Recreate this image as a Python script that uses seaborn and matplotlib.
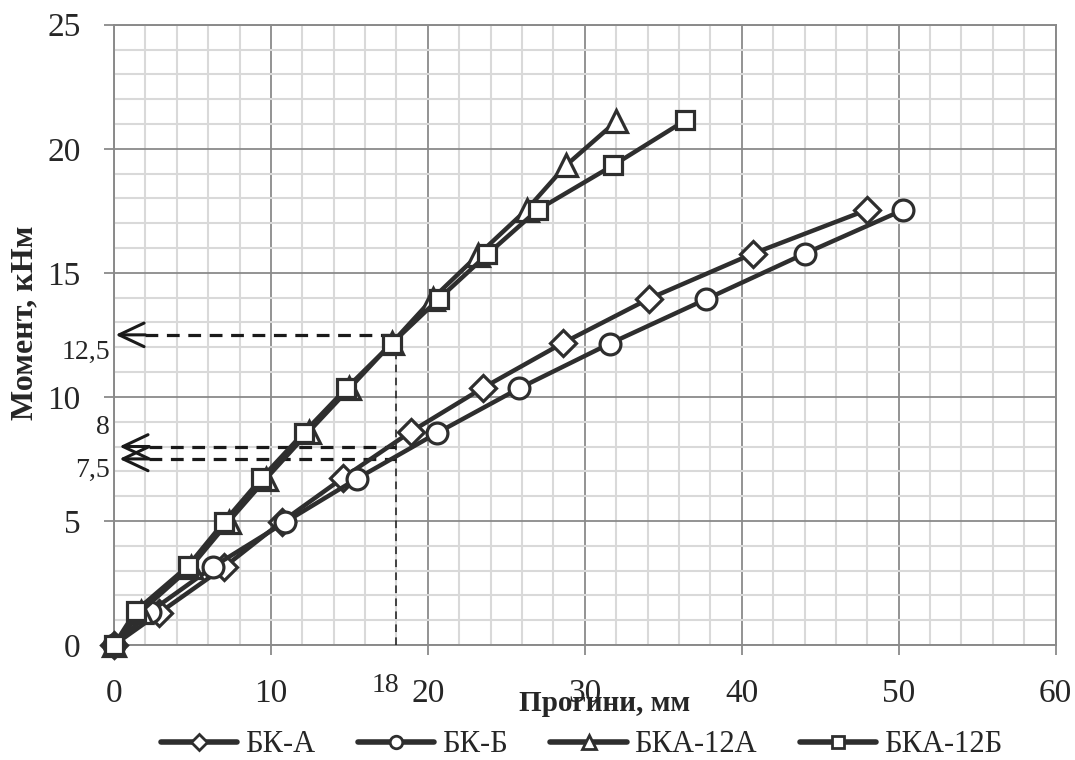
import matplotlib
matplotlib.use("Agg")
import matplotlib.pyplot as plt
from matplotlib.ticker import MultipleLocator
from matplotlib.lines import Line2D
import seaborn as sns

# deflection, mm / moment, kNm
bk_a_x = [0, 2.9, 7.0, 10.7, 14.6, 18.9, 23.5, 28.6, 34.1, 40.7, 48.0]
bk_a_y = [0, 1.3, 3.13, 4.97, 6.74, 8.59, 10.36, 12.17, 13.96, 15.77, 17.54]

bk_b_x = [0, 2.3, 6.3, 10.9, 15.5, 20.6, 25.8, 31.6, 37.7, 44.0, 50.3]
bk_b_y = [0, 1.34, 3.15, 4.95, 6.71, 8.55, 10.34, 12.15, 13.93, 15.77, 17.54]

bka_12a_x = [0, 1.7, 4.9, 7.3, 9.7, 12.4, 15.0, 17.7, 20.3, 23.2, 26.3, 28.8, 32.0]
bka_12a_y = [0, 1.34, 3.15, 4.97, 6.71, 8.59, 10.34, 12.17, 13.96, 15.72, 17.55, 19.33, 21.1]

bka_12b_x = [0, 1.4, 4.7, 7.0, 9.4, 12.1, 14.8, 17.7, 20.7, 23.8, 27.0, 31.8, 36.4]
bka_12b_y = [0, 1.38, 3.17, 4.95, 6.72, 8.56, 10.34, 12.15, 13.95, 15.75, 17.54, 19.33, 21.14]

series_names = ["БК-А", "БК-Б", "БКА-12А", "БКА-12Б"]
series_markers = ["D", "o", "^", "s"]
series_msize = [13, 15, 16, 13.5]

# dashed reading lines at deflection 18 mm
read_x = 18
read_levels = [12.5, 8.0, 7.5]
read_labels = ["12,5", "8", "7,5"]
read_label_y = [11.8, 8.78, 7.05]

sns.set_style("white")
plt.rcParams["font.family"] = ["Liberation Serif", "DejaVu Serif"]

LINE = "#2e2e2e"
GRID_MAJ = "#8a8a8a"
GRID_MIN = "#d9d9d9"

fig = plt.figure(figsize=(10.75, 7.6), dpi=100)
ax = fig.add_axes([0.106, 0.1513, 0.876, 0.8162])

data = [(bk_a_x, bk_a_y), (bk_b_x, bk_b_y), (bka_12a_x, bka_12a_y), (bka_12b_x, bka_12b_y)]
for (xs, ys), name, mk, ms in zip(data, series_names, series_markers, series_msize):
    sns.lineplot(x=xs, y=ys, ax=ax, color=LINE, lw=3.2, marker=mk, markersize=ms,
                 markerfacecolor="white", markeredgecolor=LINE, markeredgewidth=2.3,
                 sort=False, estimator=None, label=name, legend=False, zorder=5,
                 clip_on=False)

# reading lines
ax.plot([read_x, read_x], [0, read_levels[0]], color="#1a1a1a", lw=1.1,
        dashes=(5, 3.5), zorder=4)
tips = [0.1, 0.35, 0.35]
for lev, tip in zip(read_levels, tips):
    ax.plot([tip + 1.9, read_x], [lev, lev], color="#1a1a1a", lw=2.3,
            dashes=(4, 2.7), zorder=4)
    ax.annotate("", xy=(tip, lev), xytext=(tip + 1.9, lev),
                arrowprops=dict(arrowstyle="->,head_length=1.8,head_width=0.85",
                                mutation_scale=10, color="#1a1a1a", lw=2.2,
                                shrinkA=0, shrinkB=0), zorder=4)
for lab, ly in zip(read_labels, read_label_y):
    ax.text(-0.25, ly, lab, ha="right", va="center", fontsize=20, clip_on=False)
ax.text(17.3, -1.65, "18", ha="center", va="center", fontsize=20, clip_on=False)

ax.set_xlim(0, 60)
ax.set_ylim(0, 25)
ax.xaxis.set_major_locator(MultipleLocator(10))
ax.xaxis.set_minor_locator(MultipleLocator(2))
ax.yaxis.set_major_locator(MultipleLocator(5))
ax.yaxis.set_minor_locator(MultipleLocator(1))
ax.grid(which="minor", color=GRID_MIN, lw=1.5, zorder=0)
ax.grid(which="major", color=GRID_MAJ, lw=1.3, zorder=1)
ax.set_axisbelow(True)
for sp in ax.spines.values():
    sp.set_color(GRID_MAJ)
    sp.set_linewidth(1.4)
ax.tick_params(which="major", direction="out", length=7, width=1.3, color=GRID_MAJ,
               labelsize=24, left=True, bottom=True)
ax.tick_params(axis="y", pad=17)
ax.tick_params(axis="x", pad=17)
ax.tick_params(which="minor", length=0)

ax.set_xlabel("Прогини, мм", fontsize=21, fontweight="bold")
ax.xaxis.set_label_coords(0.521, -0.094)
ax.xaxis.label.set_va("center")
ax.set_ylabel("Момент, кНм", fontsize=23, fontweight="bold")
ax.yaxis.set_label_coords(-0.0945, 0.52)
ax.yaxis.label.set_va("center")

handles = [Line2D([], [], color=LINE, lw=4, marker=mk, markersize=ms * 0.6,
                  markerfacecolor="white", markeredgecolor=LINE, markeredgewidth=2)
           for mk, ms in zip(series_markers, series_msize)]
fig.legend(handles, series_names, loc="center", bbox_to_anchor=(0.541, 0.02), ncol=4,
           frameon=False, fontsize=22, handlelength=2.5, handletextpad=0.25,
           columnspacing=1.4, borderaxespad=0)

fig.savefig("out.png", dpi=100)
